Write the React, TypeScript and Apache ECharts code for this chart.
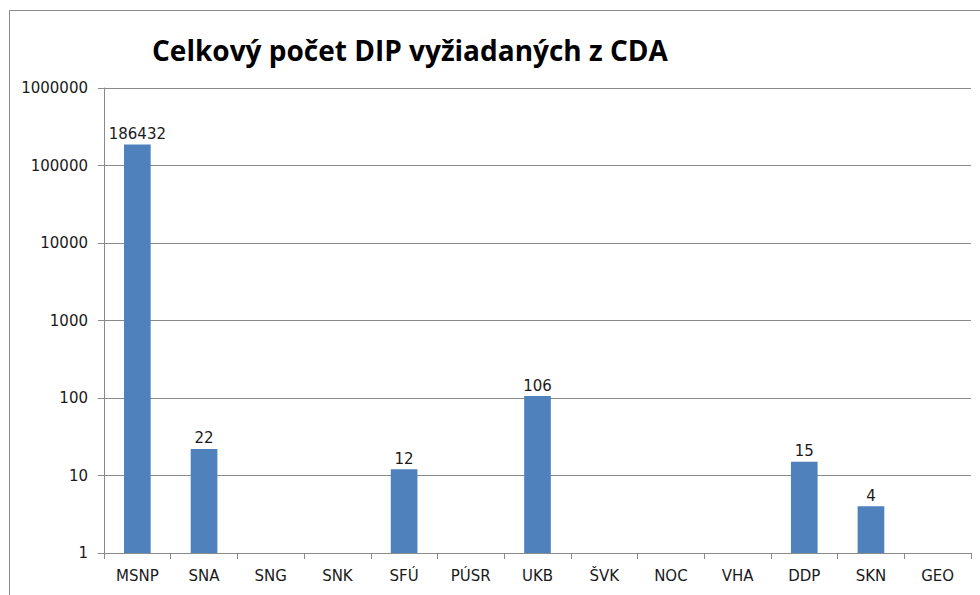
import React, { useEffect, useRef } from "react";
import * as echarts from "echarts";

const categories = ["MSNP", "SNA", "SNG", "SNK", "SFÚ", "PÚSR", "UKB", "ŠVK", "NOC", "VHA", "DDP", "SKN", "GEO"];
const values: (number | null)[] = [186432, 22, null, null, 12, null, 106, null, null, null, 15, 4, null];
const titleText = "Celkový počet DIP vyžiadaných z CDA";

const FONT = "DejaVu Sans";

export default function App() {
  const ref = useRef<HTMLDivElement>(null);
  useEffect(() => {
    if (!ref.current) return;
    const chart = echarts.init(ref.current, null, { renderer: "svg" });
    chart.setOption({
      animation: false,
      backgroundColor: "#ffffff",
      textStyle: { fontFamily: FONT },
      title: {
        text: titleText,
        left: 147,
        top: 31,
        textStyle: { fontSize: 28, fontWeight: "bold", color: "#000", fontFamily: "Open Sans, sans-serif" },
      },
      graphic: [
        {
          type: "rect",
          shape: { x: 9.5, y: 10.5, width: 1000, height: 700 },
          style: { fill: "none", stroke: "#8a8a8a", lineWidth: 1 },
          silent: true,
          z: -1,
        },
      ],
      grid: { left: 104, right: 9, top: 88, bottom: 42, containLabel: false },
      xAxis: {
        type: "category",
        data: categories,
        axisLine: { lineStyle: { color: "#8a8a8a", width: 1 } },
        axisTick: { show: true, length: 6, alignWithLabel: false, lineStyle: { color: "#8a8a8a" } },
        axisLabel: { color: "#1a1a1a", fontSize: 15, fontFamily: FONT, margin: 15, interval: 0 },
      },
      yAxis: {
        type: "log",
        logBase: 10,
        min: 1,
        max: 1000000,
        axisLine: { show: true, lineStyle: { color: "#8a8a8a", width: 1 } },
        axisTick: { show: true, length: 6, lineStyle: { color: "#8a8a8a" } },
        axisLabel: {
          color: "#1a1a1a",
          fontSize: 15,
          fontFamily: FONT,
          margin: 16,
          formatter: (v: number) => String(Math.round(v)),
        },
        splitLine: { show: true, lineStyle: { color: "#8a8a8a", width: 1 } },
      },
      series: [
        {
          type: "bar",
          data: values,
          barWidth: "40%",
          itemStyle: { color: "#4f81bd" },
          label: { show: true, position: "top", color: "#1a1a1a", fontSize: 15, fontFamily: FONT, distance: 3 },
        },
      ],
    });
    return () => chart.dispose();
  }, []);
  return <div ref={ref} style={{ position: "absolute", left: 0, top: 0, width: 980, height: 595 }} />;
}
